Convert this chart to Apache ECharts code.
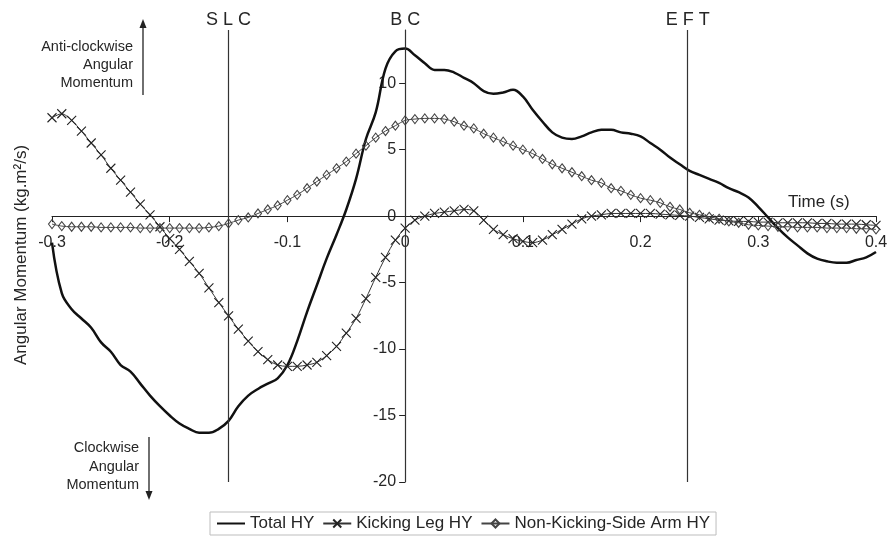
<!DOCTYPE html>
<html>
<head>
<meta charset="utf-8">
<script src="https://cdn.jsdelivr.net/npm/echarts@6/dist/echarts.min.js"></script>
<style>html,body{margin:0;padding:0;background:#fff}#c{width:889px;height:540px}</style>
</head>
<body>
<div id="c"></div>
<script>
// Time (s), sampled at 120 Hz
const times = [-0.3,-0.2917,-0.2833,-0.275,-0.2667,-0.2583,-0.25,-0.2417,-0.2333,-0.225,-0.2167,-0.2083,
  -0.2,-0.1917,-0.1833,-0.175,-0.1667,-0.1583,-0.15,-0.1417,-0.1333,-0.125,-0.1167,-0.1083,
  -0.1,-0.0917,-0.0833,-0.075,-0.0667,-0.0583,-0.05,-0.0417,-0.0333,-0.025,-0.0167,-0.0083,
  0,0.0083,0.0167,0.025,0.0333,0.0417,0.05,0.0583,0.0667,0.075,0.0833,0.0917,
  0.1,0.1083,0.1167,0.125,0.1333,0.1417,0.15,0.1583,0.1667,0.175,0.1833,0.1917,
  0.2,0.2083,0.2167,0.225,0.2333,0.2417,0.25,0.2583,0.2667,0.275,0.2833,0.2917,
  0.3,0.3083,0.3167,0.325,0.3333,0.3417,0.35,0.3583,0.3667,0.375,0.3833,0.3917,0.4];

const totalHY = [-2.0,-5.8,-7.0,-7.7,-8.4,-9.5,-10.2,-11.2,-11.7,-12.6,-13.5,-14.3,
  -15.0,-15.6,-16.0,-16.3,-16.3,-16.0,-15.4,-14.3,-13.5,-13.0,-12.6,-12.2,
  -11.2,-9.4,-7.2,-5.2,-3.2,-1.4,0.5,2.8,5.8,7.8,11.1,12.4,
  12.6,12.1,11.5,11.0,11.0,10.8,10.4,10.0,9.4,9.2,9.3,9.5,
  9.0,8.0,7.1,6.3,5.9,5.8,6.0,6.3,6.5,6.5,6.3,6.2,
  6.0,5.5,5.0,4.4,3.9,3.4,3.1,2.8,2.5,2.1,1.8,1.4,
  0.7,-0.1,-0.9,-1.6,-2.2,-2.8,-3.2,-3.4,-3.5,-3.5,-3.3,-3.1,-2.7];

const kickingLegHY = [7.4,7.7,7.2,6.4,5.5,4.6,3.6,2.7,1.8,0.9,0.1,-0.8,
  -1.7,-2.5,-3.4,-4.3,-5.4,-6.5,-7.5,-8.5,-9.4,-10.2,-10.8,-11.2,
  -11.3,-11.3,-11.2,-11.0,-10.5,-9.8,-8.8,-7.7,-6.2,-4.6,-3.1,-1.8,
  -0.9,-0.3,0.0,0.2,0.3,0.4,0.5,0.4,-0.3,-1.0,-1.4,-1.7,
  -1.9,-2.0,-1.8,-1.4,-1.0,-0.6,-0.2,0.0,0.1,0.2,0.2,0.2,
  0.2,0.2,0.15,0.1,0.05,0.0,-0.1,-0.2,-0.3,-0.35,-0.4,-0.4,
  -0.45,-0.45,-0.5,-0.5,-0.5,-0.5,-0.55,-0.55,-0.6,-0.6,-0.6,-0.65,-0.7];

const armHY = [-0.6,-0.75,-0.8,-0.8,-0.8,-0.85,-0.85,-0.85,-0.85,-0.9,-0.9,-0.9,
  -0.9,-0.9,-0.9,-0.9,-0.85,-0.75,-0.55,-0.3,-0.1,0.2,0.5,0.8,
  1.2,1.6,2.1,2.6,3.1,3.6,4.1,4.7,5.3,5.9,6.4,6.8,
  7.2,7.3,7.35,7.35,7.3,7.1,6.8,6.6,6.2,5.9,5.6,5.3,
  5.0,4.7,4.3,3.9,3.6,3.3,3.0,2.7,2.5,2.1,1.9,1.6,
  1.35,1.2,1.0,0.7,0.5,0.25,0.1,-0.05,-0.2,-0.4,-0.5,-0.65,
  -0.7,-0.75,-0.8,-0.8,-0.85,-0.85,-0.85,-0.9,-0.9,-0.9,-0.95,-0.95,-1.0];

const seriesNames = ['Total HY', 'Kicking Leg HY', 'Non-Kicking-Side Arm HY'];
const eventTimes = [-0.15, 0, 0.24];
const eventLabels = ['S L C', 'B C', 'E F T'];
const yTicks = [-20, -15, -10, -5, 0, 5, 10];
const xTicks = [-0.3, -0.2, -0.1, 0, 0.1, 0.2, 0.3, 0.4];
const xMin = -0.3, xMax = 0.4, yMin = -20, yMax = 14;

const FONT = '"Liberation Sans", Arial, sans-serif';
const TXT = '#262626';

// grid box
const G = {left: 52, right: 13, top: 30, bottom: 58};
const W = 889, H = 540;
const gw = W - G.left - G.right, gh = H - G.top - G.bottom;
// offsets so that each axis crosses the other at zero
const xAxisOffset = -(gh * (0 - yMin) / (yMax - yMin));
const yAxisOffset = -(gw * (0 - xMin) / (xMax - xMin));

const pairs = arr => times.map((t, i) => [t, arr[i]]);

const chart = echarts.init(document.getElementById('c'), null, {renderer: 'canvas'});
chart.setOption({
  backgroundColor: '#ffffff',
  animation: false,
  textStyle: {fontFamily: FONT, color: TXT},
  grid: {left: G.left, right: G.right, top: G.top, bottom: G.bottom, containLabel: false, outerBoundsMode: 'none'},
  xAxis: {
    type: 'value', min: xMin, max: xMax, interval: 0.1, position: 'bottom', offset: xAxisOffset,
    axisLine: {onZero: false, lineStyle: {color: '#222', width: 1}},
    axisTick: {show: true, inside: false, length: 6, lineStyle: {color: '#222'}, customValues: xTicks},
    axisLabel: {fontSize: 16, color: TXT, margin: 18, fontFamily: FONT, customValues: xTicks,
      formatter: v => String(Math.round(v * 10) / 10), showMinLabel: true, showMaxLabel: true},
    splitLine: {show: false}
  },
  yAxis: {
    type: 'value', min: yMin, max: yMax, interval: 5, position: 'left', offset: yAxisOffset,
    axisLine: {show: true, onZero: false, lineStyle: {color: '#222', width: 1}},
    axisTick: {show: true, inside: false, length: 6, lineStyle: {color: '#222'}, customValues: yTicks},
    axisLabel: {fontSize: 16, color: TXT, margin: 9, fontFamily: FONT, customValues: yTicks},
    splitLine: {show: false}
  },
  legend: {
    data: [
      {name: seriesNames[0], itemStyle: {opacity: 0}},
      {name: seriesNames[1]},
      {name: seriesNames[2]}
    ],
    left: 210, top: 512,
    orient: 'horizontal', itemWidth: 28, itemHeight: 10, itemGap: 8,
    padding: [3, 6], borderColor: '#bdbdbd', borderWidth: 1,
    textStyle: {fontSize: 17, color: TXT, fontFamily: FONT},
    selectedMode: false
  },
  series: [
    {
      name: seriesNames[0], type: 'line', data: pairs(totalHY), smooth: 0.4,
      showSymbol: false, symbol: 'none',
      lineStyle: {color: '#111', width: 2.5}, itemStyle: {color: '#111'}, z: 3,
      markLine: {
        silent: true, symbol: 'none', animation: false,
        lineStyle: {color: '#333', width: 1.2, type: 'solid'},
        label: {show: true, position: 'end', fontSize: 18, color: TXT, fontFamily: FONT, distance: 1,
          formatter: p => eventLabels[p.dataIndex]},
        data: eventTimes.map(t => ({xAxis: t}))
      }
    },
    {
      name: seriesNames[1], type: 'line', data: pairs(kickingLegHY), smooth: 0.3,
      symbol: 'path://M0,0L10,10M10,0L0,10', symbolSize: 9, showSymbol: true,
      lineStyle: {color: '#333', width: 1},
      itemStyle: {color: 'rgba(0,0,0,0)', borderColor: '#222', borderWidth: 1.1}, z: 4
    },
    {
      name: seriesNames[2], type: 'line', data: pairs(armHY), smooth: 0.3,
      symbol: 'diamond', symbolSize: [7, 9], showSymbol: true,
      lineStyle: {color: '#444', width: 1},
      itemStyle: {color: 'rgba(255,255,255,0)', borderColor: '#444', borderWidth: 1.1}, z: 5
    }
  ],
  graphic: [
    {type: 'text', x: 21, y: 255, rotation: Math.PI / 2,
      style: {text: 'Angular Momentum (kg.m²/s)', font: '17px ' + FONT, fill: TXT, align: 'center', verticalAlign: 'middle'}},
    {type: 'text', x: 788, y: 194,
      style: {text: 'Time (s)', font: '17px ' + FONT, fill: TXT}},
    {type: 'text', x: 133, y: 38,
      style: {text: 'Anti-clockwise\nAngular\nMomentum', font: '14.5px ' + FONT, fill: TXT, align: 'right', lineHeight: 18}},
    {type: 'line', shape: {x1: 143, y1: 95, x2: 143, y2: 26}, style: {stroke: '#222', lineWidth: 1.3}},
    {type: 'polygon', shape: {points: [[143, 19], [139.5, 28], [146.5, 28]]}, style: {fill: '#222'}},
    {type: 'text', x: 139, y: 439,
      style: {text: 'Clockwise\nAngular\nMomentum', font: '14.5px ' + FONT, fill: TXT, align: 'right', lineHeight: 18.5}},
    {type: 'line', shape: {x1: 149, y1: 437, x2: 149, y2: 493}, style: {stroke: '#222', lineWidth: 1.3}},
    {type: 'polygon', shape: {points: [[149, 500], [145.5, 491], [152.5, 491]]}, style: {fill: '#222'}}
  ]
});
</script>
</body>
</html>
